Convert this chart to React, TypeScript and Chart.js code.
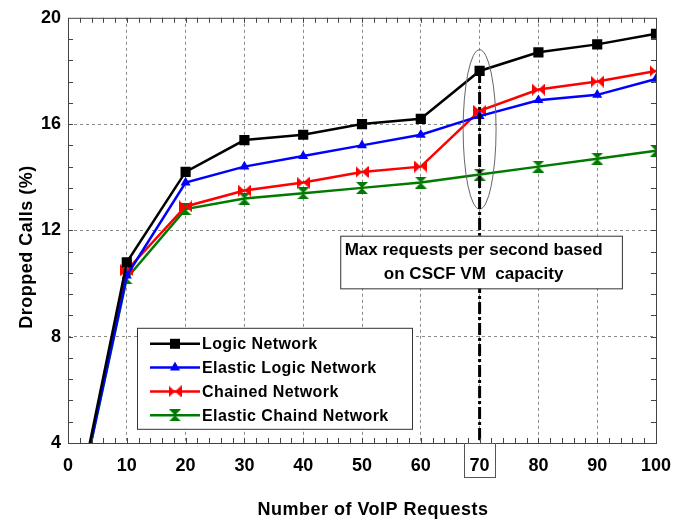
import React, { useEffect, useRef } from "react";
import { Chart, registerables } from "chart.js";

Chart.register(...registerables);

// ---- data ----
const requests = [0, 10, 20, 30, 40, 50, 60, 70, 80, 90, 100];
const logicNetwork = [0, 10.8, 14.2, 15.4, 15.6, 16.0, 16.2, 18.0, 18.7, 19.0, 19.4];
const elasticLogicNetwork = [0, 10.3, 13.8, 14.4, 14.8, 15.2, 15.6, 16.3, 16.9, 17.1, 17.7];
const chainedNetwork = [0, 10.5, 12.9, 13.5, 13.8, 14.2, 14.4, 16.5, 17.3, 17.6, 18.0];
const elasticChaindNetwork = [0, 10.2, 12.8, 13.2, 13.4, 13.6, 13.8, 14.1, 14.4, 14.7, 15.0];
const seriesNames = ["Logic Network", "Elastic Logic Network", "Chained Network", "Elastic Chaind Network"];
const seriesColors = ["#000000", "#0000ff", "#ff0000", "#007a00"];
const xMin = 0, xMax = 100, xStep = 10, xMinorStep = 2;
const yMin = 4, yMax = 20, yStep = 4, yMinorStep = 0.8;
const capacityRequests = 70;
const annotationLines = ["Max requests per second based", "on CSCF VM  capacity"];
const xTitle = "Number of VoIP Requests";
const yTitle = "Dropped Calls (%)";

const FONT = '"Liberation Sans", Arial, sans-serif';

function makeBowtie(color: string): HTMLCanvasElement {
  const c = document.createElement("canvas");
  const w = 13, h = 12;
  c.width = w; c.height = h;
  const g = c.getContext("2d")!;
  g.fillStyle = color;
  g.beginPath();
  g.moveTo(0, 0); g.lineTo(w / 2, h / 2); g.lineTo(0, h); g.closePath();
  g.moveTo(w, 0); g.lineTo(w / 2, h / 2); g.lineTo(w, h); g.closePath();
  g.fill();
  return c;
}

function makeHourglass(color: string): HTMLCanvasElement {
  const c = document.createElement("canvas");
  const w = 12, h = 12;
  c.width = w; c.height = h;
  const g = c.getContext("2d")!;
  g.fillStyle = color;
  g.beginPath();
  g.moveTo(0, 0); g.lineTo(w, 0); g.lineTo(w / 2, h / 2); g.closePath();
  g.moveTo(0, h); g.lineTo(w, h); g.lineTo(w / 2, h / 2); g.closePath();
  g.fill();
  return c;
}

const decorPlugin = {
  id: "decor",
  beforeDraw(chart: any) {
    const ctx = chart.ctx;
    ctx.save();
    ctx.fillStyle = "#ffffff";
    ctx.fillRect(0, 0, chart.width, chart.height);
    ctx.restore();
  },
  afterDatasetsDraw(chart: any) {
    const ctx = chart.ctx;
    const xs = chart.scales.x;
    const ys = chart.scales.y;
    const a = chart.chartArea;
    ctx.save();

    // ellipse around capacity point
    const cx = xs.getPixelForValue(capacityRequests);
    const cy = ys.getPixelForValue(15.8);
    const rx = xs.getPixelForValue(capacityRequests + 2.8) - cx;
    const ry = cy - ys.getPixelForValue(15.8 + 3.0);
    ctx.strokeStyle = "#666";
    ctx.lineWidth = 1;
    ctx.beginPath();
    ctx.ellipse(cx, cy, rx, ry, 0, 0, Math.PI * 2);
    ctx.stroke();

    // vertical dash-dot capacity line
    const topY = ys.getPixelForValue(logicNetwork[requests.indexOf(capacityRequests)]);
    ctx.strokeStyle = "#000";
    ctx.lineWidth = 3;
    ctx.setLineDash([12, 3, 3, 3]);
    ctx.beginPath();
    ctx.moveTo(cx, topY);
    ctx.lineTo(cx, a.bottom);
    ctx.stroke();
    ctx.setLineDash([]);

    // annotation box
    const bx1 = xs.getPixelForValue(46.3);
    const bx2 = xs.getPixelForValue(94.2);
    const by1 = ys.getPixelForValue(11.8);
    const by2 = ys.getPixelForValue(9.82);
    ctx.fillStyle = "#fff";
    ctx.fillRect(bx1, by1, bx2 - bx1, by2 - by1);
    ctx.strokeStyle = "#333";
    ctx.lineWidth = 1;
    ctx.strokeRect(bx1 + 0.5, by1 + 0.5, bx2 - bx1, by2 - by1);
    ctx.fillStyle = "#000";
    ctx.font = `bold 17px ${FONT}`;
    ctx.textAlign = "center";
    ctx.textBaseline = "middle";
    const tx = cx - 6;
    ctx.fillText(annotationLines[0], tx, by1 + 15);
    ctx.fillText(annotationLines[1], tx, by1 + 39);

    // legend
    const lx = a.left + 69;
    const ly = a.top + 310;
    const lw = 275, lh = 101;
    ctx.fillStyle = "#fff";
    ctx.fillRect(lx, ly, lw, lh);
    ctx.strokeStyle = "#333";
    ctx.lineWidth = 1;
    ctx.strokeRect(lx + 0.5, ly + 0.5, lw, lh);
    ctx.font = `bold 16px ${FONT}`;
    (ctx as any).letterSpacing = "0.4px";
    ctx.textAlign = "left";
    ctx.textBaseline = "middle";
    chart.data.datasets.forEach((ds: any, i: number) => {
      const ry2 = ly + 16 + i * 23.8;
      ctx.strokeStyle = ds.borderColor;
      ctx.lineWidth = 2.5;
      ctx.beginPath();
      ctx.moveTo(lx + 13, ry2);
      ctx.lineTo(lx + 63, ry2);
      ctx.stroke();
      const st = ds.pointStyle;
      ctx.fillStyle = ds.borderColor;
      if (st === "rect") {
        ctx.fillRect(lx + 38 - 5, ry2 - 5, 10, 10);
      } else if (st === "triangle") {
        ctx.beginPath();
        ctx.moveTo(lx + 38, ry2 - 6);
        ctx.lineTo(lx + 38 + 5, ry2 + 3);
        ctx.lineTo(lx + 38 - 5, ry2 + 3);
        ctx.closePath();
        ctx.fill();
      } else if (st && st.width) {
        ctx.drawImage(st, lx + 38 - st.width / 2, ry2 - st.height / 2);
      }
      ctx.fillStyle = "#000";
      ctx.fillText(ds.label, lx + 65, ry2 + 1);
    });
    (ctx as any).letterSpacing = "0px";

    // frame
    ctx.strokeStyle = "#444";
    ctx.lineWidth = 1;
    ctx.strokeRect(a.left + 0.5, a.top + 0.5, a.right - a.left, a.bottom - a.top);

    // minor ticks
    ctx.beginPath();
    const tl = 5;
    for (let v = xMin + xMinorStep; v < xMax; v += xMinorStep) {
      const px = Math.round(xs.getPixelForValue(v)) + 0.5;
      ctx.moveTo(px, a.bottom); ctx.lineTo(px, a.bottom - tl);
      ctx.moveTo(px, a.top); ctx.lineTo(px, a.top + tl);
    }
    for (let k = 1; yMin + k * yMinorStep < yMax - 1e-6; k++) {
      const py = Math.round(ys.getPixelForValue(yMin + k * yMinorStep)) + 0.5;
      ctx.moveTo(a.left, py); ctx.lineTo(a.left + tl, py);
      ctx.moveTo(a.right, py); ctx.lineTo(a.right - tl, py);
    }
    ctx.stroke();

    // box around the capacity tick label
    ctx.strokeStyle = "#555";
    ctx.strokeRect(Math.round(cx - 16) + 0.5, a.bottom + 0.5, 31, 34);

    // axis titles
    ctx.fillStyle = "#000";
    ctx.font = `bold 18px ${FONT}`;
    (ctx as any).letterSpacing = "0.5px";
    ctx.textAlign = "center";
    ctx.textBaseline = "middle";
    ctx.fillText(xTitle, 373, 510);
    ctx.save();
    ctx.translate(27, 247);
    ctx.rotate(-Math.PI / 2);
    ctx.fillText(yTitle, 0, 0);
    ctx.restore();
    (ctx as any).letterSpacing = "0px";

    ctx.restore();
  },
};

export default function App() {
  const ref = useRef<HTMLCanvasElement | null>(null);
  useEffect(() => {
    const canvas = ref.current!;
    const markerStyles: any[] = ["rect", "triangle", makeBowtie(seriesColors[2]), makeHourglass(seriesColors[3])];
    const seriesValues = [logicNetwork, elasticLogicNetwork, chainedNetwork, elasticChaindNetwork];
    const datasets = seriesValues.map((vals, i) => ({
      label: seriesNames[i],
      data: requests.map((x, j) => ({ x, y: vals[j] })),
      borderColor: seriesColors[i],
      backgroundColor: seriesColors[i],
      borderWidth: 2.5,
      pointStyle: markerStyles[i],
      pointRadius: requests.map((x) => (x === 0 ? 0 : i === 0 ? 7.2 : 5.8)),
      pointBorderWidth: 0,
      pointHoverRadius: 0,
      tension: 0,
      clip: 1,
    }));
    const chart: any = new Chart(canvas, {
      type: "line",
      data: { datasets },
      options: {
        animation: false,
        responsive: false,
        devicePixelRatio: 1,
        layout: { padding: { top: 16, right: 32, left: 0, bottom: 0 } },
        plugins: { legend: { display: false }, tooltip: { enabled: false } },
        events: [],
        scales: {
          x: {
            type: "linear",
            min: xMin,
            max: xMax,
            afterFit: (s: any) => { s.height = 77; },
            ticks: {
              stepSize: xStep,
              color: "#000",
              font: { family: FONT, size: 18, weight: "bold" },
              padding: 12,
              maxRotation: 0,
            },
            grid: {
              drawTicks: false,
              lineWidth: 1,
              color: (c: any) => (c.tick && (c.tick.value === xMin || c.tick.value === xMax) ? "transparent" : "#8a8a8a"),
            },
            border: { display: false, dash: [3, 3] },
          },
          y: {
            type: "linear",
            min: yMin,
            max: yMax,
            afterFit: (s: any) => { s.width = 68; },
            ticks: {
              stepSize: yStep,
              color: "#000",
              font: { family: FONT, size: 18, weight: "bold" },
              padding: 7,
            },
            grid: {
              drawTicks: false,
              lineWidth: 1,
              color: (c: any) => (c.tick && (c.tick.value === yMin || c.tick.value === yMax) ? "transparent" : "#8a8a8a"),
            },
            border: { display: false, dash: [3, 3] },
          },
        },
      },
      plugins: [decorPlugin],
    } as any);
    return () => chart.destroy();
  }, []);
  return (
    <div style={{ position: "fixed", left: 0, top: 0, width: 688, height: 520, background: "#fff" }}>
      <canvas ref={ref} width={688} height={520} style={{ width: 688, height: 520, display: "block" }} />
    </div>
  );
}
